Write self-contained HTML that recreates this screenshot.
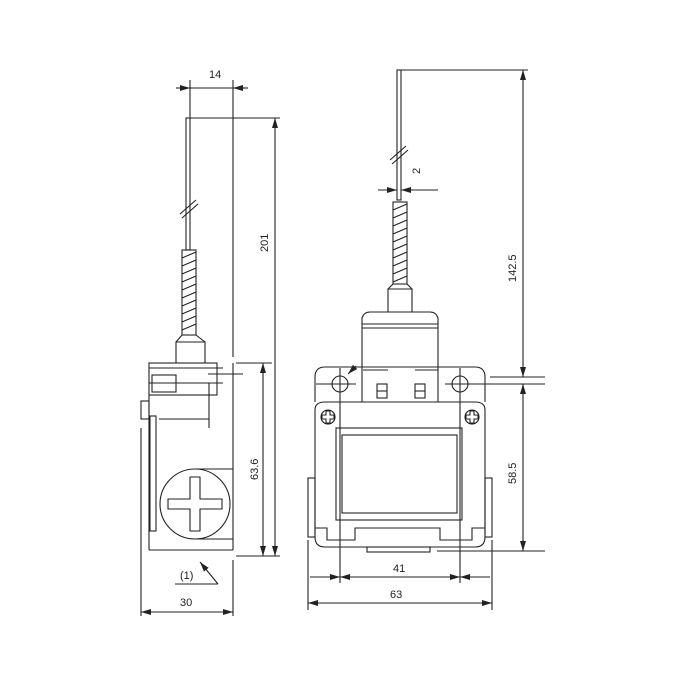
<!DOCTYPE html>
<html><head><meta charset="utf-8"><style>
html,body{margin:0;padding:0;background:#fff}
svg{display:block}
text{font-family:"Liberation Sans",sans-serif;font-size:11px;fill:#222}
</style></head><body>
<svg width="685" height="685" viewBox="0 0 685 685" xmlns="http://www.w3.org/2000/svg">
<defs>
<marker id="a" viewBox="0 0 10 6" refX="10" refY="3" markerWidth="10" markerHeight="6" orient="auto-start-reverse" markerUnits="userSpaceOnUse"><path d="M0,0 L10,3 L0,6 z" fill="#222"/></marker>
</defs>
<g stroke="#222" stroke-width="1.1" fill="none">
<line x1="190" y1="80" x2="190" y2="118"/>
<line x1="233" y1="80" x2="233" y2="357"/>
<line x1="176" y1="88" x2="190" y2="88" marker-end="url(#a)"/>
<line x1="190" y1="88" x2="233" y2="88"/>
<line x1="248" y1="88" x2="233" y2="88" marker-end="url(#a)"/>
<rect x="186" y="118" width="4" height="132"/>
<line x1="190" y1="118" x2="280" y2="118"/>
<line x1="180" y1="214" x2="196" y2="200"/><line x1="182" y1="218" x2="198" y2="204"/>
<rect x="182" y="250" width="14" height="85"/>
<g>
<line x1="182" y1="258" x2="196" y2="252"/><line x1="182" y1="266" x2="196" y2="260"/><line x1="182" y1="274" x2="196" y2="268"/><line x1="182" y1="282" x2="196" y2="276"/><line x1="182" y1="290" x2="196" y2="284"/><line x1="182" y1="298" x2="196" y2="292"/><line x1="182" y1="306" x2="196" y2="300"/><line x1="182" y1="314" x2="196" y2="308"/><line x1="182" y1="322" x2="196" y2="316"/><line x1="182" y1="330" x2="196" y2="324"/>
</g>
<path d="M182,335 L176,342 L176,363 M196,335 L205,342 L205,363 M176,342 L205,342"/>
<rect x="149" y="363" width="68" height="32"/>
<line x1="149" y1="368" x2="223" y2="368"/>
<line x1="149" y1="383" x2="223" y2="383"/>
<line x1="208" y1="374" x2="243" y2="374"/>
<rect x="152" y="375" width="24" height="17"/>
<line x1="209" y1="383" x2="209" y2="428"/>
<line x1="159" y1="419" x2="209" y2="419"/>
<line x1="233" y1="363" x2="233" y2="550"/>
<line x1="149" y1="395" x2="149" y2="550"/>
<line x1="149" y1="550" x2="233" y2="550"/>
<rect x="141" y="401" width="8" height="18"/>
<rect x="150" y="416" width="6" height="115"/>
<line x1="141" y1="428" x2="141" y2="616"/>
<circle cx="195" cy="504" r="35"/>
<path d="M195,469 L233,469 M195,539 L233,539"/>
<path d="M190,477 h10 v22 h22 v10 h-22 v22 h-10 v-22 h-22 v-10 h22 z"/>
<line x1="236" y1="363" x2="272" y2="363"/>
<line x1="236" y1="556" x2="280" y2="556"/>
<line x1="263" y1="363" x2="263" y2="556" marker-start="url(#a)" marker-end="url(#a)"/>
<line x1="275" y1="118" x2="275" y2="556" marker-start="url(#a)" marker-end="url(#a)"/>
<line x1="175" y1="584" x2="218" y2="584"/>
<line x1="218" y1="584" x2="200" y2="562" marker-end="url(#a)"/>
<line x1="233" y1="560" x2="233" y2="616"/>
<line x1="141" y1="612" x2="233" y2="612" marker-start="url(#a)" marker-end="url(#a)"/>

<rect x="397" y="70" width="4" height="130"/>
<line x1="401" y1="70" x2="528" y2="70"/>
<line x1="390" y1="160" x2="406" y2="146"/><line x1="392" y1="164" x2="408" y2="150"/>
<line x1="378" y1="190" x2="397" y2="190" marker-end="url(#a)"/>
<line x1="438" y1="190" x2="401" y2="190" marker-end="url(#a)"/>
<rect x="393" y="202" width="14" height="82"/>
<g>
<line x1="393" y1="210" x2="407" y2="204"/><line x1="393" y1="218" x2="407" y2="212"/><line x1="393" y1="226" x2="407" y2="220"/><line x1="393" y1="234" x2="407" y2="228"/><line x1="393" y1="242" x2="407" y2="236"/><line x1="393" y1="250" x2="407" y2="244"/><line x1="393" y1="258" x2="407" y2="252"/><line x1="393" y1="266" x2="407" y2="260"/><line x1="393" y1="274" x2="407" y2="268"/><line x1="393" y1="282" x2="407" y2="276"/>
</g>
<path d="M393,284 L388,289 L388,312 M407,284 L412,289 L412,312 M388,289 L412,289"/>
<path d="M362,402 L362,318 Q364,312 370,312 L430,312 Q436,312 438,318 L438,402"/>
<line x1="362" y1="324" x2="438" y2="324"/>
<line x1="362" y1="328" x2="438" y2="328"/>
<path d="M315,402 L315,377 Q315,367 325,367 L475,367 Q485,367 485,377 L485,402"/>
<line x1="363" y1="370" x2="388" y2="370"/><line x1="415" y1="370" x2="438" y2="370"/>
<line x1="356" y1="366" x2="348" y2="374" marker-end="url(#a)"/>
<circle cx="340" cy="384" r="8"/><circle cx="460" cy="384" r="8"/>
<line x1="316" y1="384" x2="356" y2="384"/>
<line x1="445" y1="384" x2="545" y2="384"/>
<line x1="340" y1="368" x2="340" y2="583"/>
<line x1="460" y1="368" x2="460" y2="583"/>
<rect x="377" y="384" width="10" height="14"/><line x1="377" y1="391" x2="387" y2="391"/>
<rect x="415" y="384" width="10" height="14"/><line x1="415" y1="391" x2="425" y2="391"/>
<path d="M315,410 Q315,402 325,402 L475,402 Q485,402 485,410 L485,537 Q485,547 475,547 L325,547 Q315,547 315,537 Z"/>
<circle cx="328" cy="417" r="7"/><circle cx="472" cy="417" r="7"/>
<path d="M326,411 h4 v4 h4 v4 h-4 v4 h-4 v-4 h-4 v-4 h4 z"/>
<path d="M470,411 h4 v4 h4 v4 h-4 v4 h-4 v-4 h-4 v-4 h4 z"/>
<rect x="336" y="428" width="126" height="92"/>
<rect x="342" y="435" width="115" height="78"/>
<path d="M315,528 L327,528 L327,540 L355,540 L355,528 L440,528 L440,540 L472,540 L472,528 L485,528"/>
<rect x="308" y="478" width="7" height="59"/>
<rect x="485" y="478" width="7" height="59"/>
<rect x="367" y="547" width="63" height="5"/>
<line x1="490" y1="377" x2="545" y2="377"/>
<line x1="437" y1="551" x2="545" y2="551"/>
<line x1="523" y1="70" x2="523" y2="377" marker-start="url(#a)" marker-end="url(#a)"/>
<line x1="523" y1="384" x2="523" y2="551" marker-start="url(#a)" marker-end="url(#a)"/>
<line x1="308" y1="540" x2="308" y2="610"/>
<line x1="492" y1="540" x2="492" y2="610"/>
<line x1="310" y1="577" x2="340" y2="577" marker-end="url(#a)"/>
<line x1="340" y1="577" x2="460" y2="577" marker-start="url(#a)" marker-end="url(#a)"/>
<line x1="490" y1="577" x2="460" y2="577" marker-end="url(#a)"/>
<line x1="308" y1="603" x2="492" y2="603" marker-start="url(#a)" marker-end="url(#a)"/>
</g>
<text x="209" y="78">14</text>
<text x="0" y="0" transform="translate(268,252) rotate(-90)">201</text>
<text x="0" y="0" transform="translate(258,480) rotate(-90)">63.6</text>
<text x="180" y="579">(1)</text>
<text x="180" y="606">30</text>
<text x="0" y="0" transform="translate(420,174) rotate(-90)">2</text>
<text x="0" y="0" transform="translate(516,282) rotate(-90)">142.5</text>
<text x="0" y="0" transform="translate(516,484) rotate(-90)">58.5</text>
<text x="393" y="572">41</text>
<text x="390" y="598">63</text>
</svg>
</body></html>
